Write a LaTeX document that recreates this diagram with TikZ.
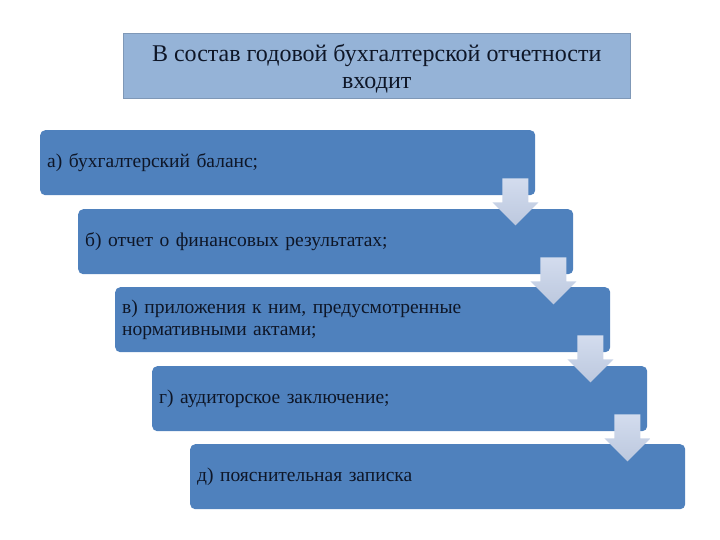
\documentclass[tikz,border=0pt]{standalone}
\usepackage{fontspec}
\setmainfont{Liberation Serif}
\usetikzlibrary{calc}
\definecolor{boxblue}{HTML}{4F81BD}
\definecolor{titleblue}{HTML}{95B3D7}
\definecolor{txtdark}{HTML}{0E1627}
\definecolor{arrtop}{HTML}{D3DCEE}
\definecolor{arrbot}{HTML}{BCC8DE}
\tikzset{
  stepbox/.style={draw=none, fill=boxblue, rounded corners=5pt, anchor=north west,
    minimum height=65pt, text width=481pt, inner xsep=7pt, inner ysep=0pt, align=left,
    text=txtdark, font=\fontsize{19.5}{22}\selectfont},
  titlebox/.style={draw=titleblue!85!black, line width=0.4pt, fill=titleblue, anchor=north west,
    minimum width=507pt, minimum height=65pt, inner sep=0pt},
  titletext/.style={align=center, text=txtdark, font=\fontsize{24}{27}\selectfont, inner sep=0pt},
  downarr/.style={top color=arrtop, bottom color=arrbot, draw=none}
}
\newcommand\blockarrow[1]{%
  \begin{scope}[shift={(#1.south east)}]
    \path[downarr] (-33,-17) -- (-7,-17) -- (-7,7) -- (3,7) -- (-20,30) -- (-43,7) -- (-33,7) -- cycle;
  \end{scope}}
\begin{document}
\begin{tikzpicture}[x=1pt,y=-1pt]
\useasboundingbox (0,0) rectangle (720,540);
\node[titlebox] (title) at (123,33) {};
\node[titletext] (ttext) at ($(title.center)+(0,3)$) {В состав годовой бухгалтерской отчетности\\входит};
\node[stepbox] (b1) at (40,130) {а) бухгалтерский баланс;};
\node[stepbox] (b2) at (78,209) {б) отчет о финансовых результатах;};
\node[stepbox] (b3) at (115,287) {в) приложения к ним, предусмотренные\\нормативными актами;};
\node[stepbox] (b4) at (152,366) {г) аудиторское заключение;};
\node[stepbox] (b5) at (190,444) {д) пояснительная записка};
\blockarrow{b1}
\blockarrow{b2}
\blockarrow{b3}
\blockarrow{b4}
\end{tikzpicture}
\end{document}
